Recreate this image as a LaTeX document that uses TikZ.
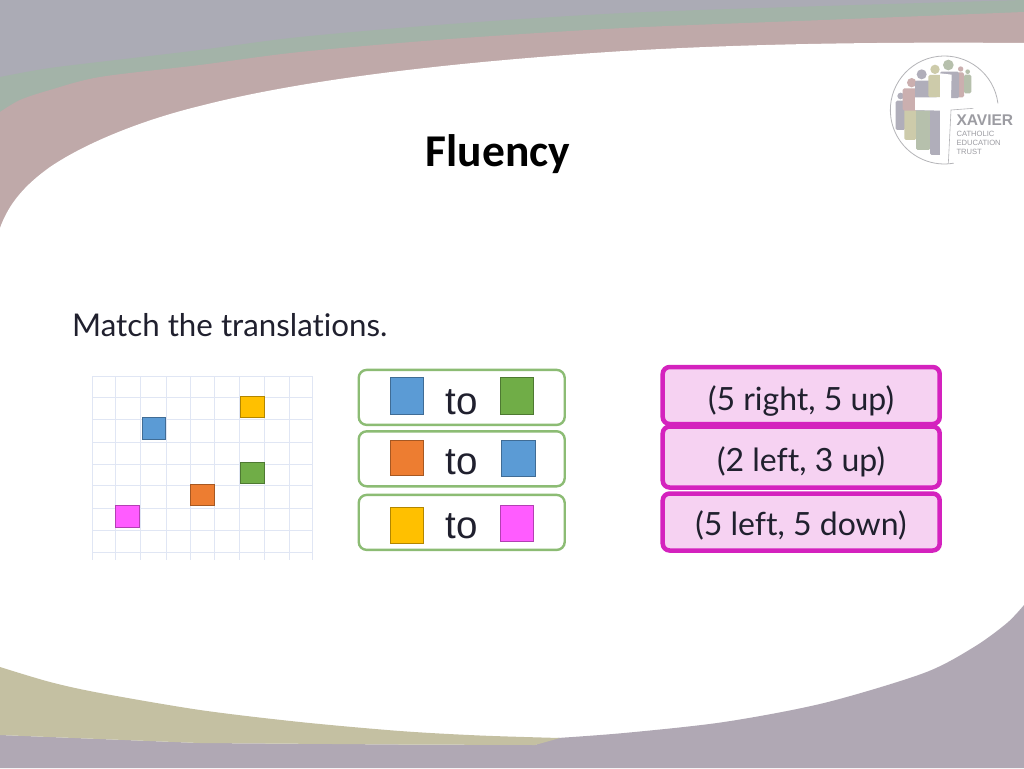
\documentclass[tikz,border=0pt]{standalone}
\usepackage{fontspec}
\setmainfont{Carlito}
\newfontfamily\nun{Lato}
\newfontfamily\arm{Liberation Sans}
\definecolor{topgrey}{HTML}{ABABB5}
\definecolor{topgreen}{HTML}{A3B3A8}
\definecolor{toprose}{HTML}{BFA9A9}
\definecolor{botolive}{HTML}{C4C0A2}
\definecolor{botmauve}{HTML}{B0A8B4}
\definecolor{gridc}{HTML}{E0E6F4}
\definecolor{cblue}{HTML}{5B9BD5}
\definecolor{cgreen}{HTML}{70AD47}
\definecolor{corange}{HTML}{ED7D31}
\definecolor{cyellow}{HTML}{FFC000}
\definecolor{cpink}{HTML}{FF5CFF}
\definecolor{boxgreen}{HTML}{8CBC74}
\definecolor{boxmag}{HTML}{D422BE}
\definecolor{boxfill}{HTML}{F6D2F2}
\definecolor{inkc}{HTML}{20202E}
\definecolor{pgrey}{HTML}{B0AEBA}
\definecolor{prose}{HTML}{CBAFAF}
\definecolor{polive}{HTML}{CDCBAA}
\definecolor{psage}{HTML}{B6C0AC}
\definecolor{logoline}{HTML}{B4B4B8}
\definecolor{logotext}{HTML}{9C9CA2}
\tikzset{
  x=1pt,y=-1pt,
  sq/.style={draw=#1!70!black,fill=#1,line width=0.9pt,inner sep=0pt,anchor=center},
  tobox/.style={draw=boxgreen,line width=2.4pt,rounded corners=8pt,fill=white,minimum width=206pt,minimum height=55pt,inner sep=0pt},
  magbox/.style={draw=boxmag,fill=boxfill,line width=4.5pt,rounded corners=7pt,minimum width=277pt,minimum height=#1,inner sep=0pt},
  magtext/.style={font=\nun\fontsize{32}{32}\selectfont,text=inkc,inner sep=0pt,anchor=base},
  totext/.style={font=\arm\fontsize{38.5}{38.5}\selectfont,text=inkc,inner sep=0pt,anchor=base},
  logotxt/.style={text=logotext,inner sep=0pt,anchor=base west},
  limb/.style={rounded corners=1.5pt}
}
\begin{document}
\begin{tikzpicture}
\useasboundingbox (0,0) rectangle (1024,768);
\fill[topgrey] (0,0) rectangle (1024,768);
% top bands
\fill[topgreen] plot[smooth] coordinates {(0,77) (50,68) (133,58) (200,50) (300,37) (450,24) (624,13) (824,6) (1024,0)} -- (1024,400) -- (0,400) -- cycle;
\fill[toprose] plot[smooth] coordinates {(0,112) (20,100) (50,90) (100,77) (200,65) (300,52) (450,39) (624,28) (824,20) (1024,12)} -- (1024,400) -- (0,400) -- cycle;
\fill[white] (0,228) .. controls (9,203) and (25,185) .. (50,167) .. controls (90,140) and (150,118) .. (200,106) .. controls (300,80) and (450,62) .. (624,51) .. controls (760,43) and (900,42) .. (1024,43) -- (1024,768) -- (0,768) -- cycle;
% bottom bands
\fill[botmauve] plot[smooth] coordinates {(550,738.5) (624,733) (724,722) (824,703) (924,673) (974,647) (1007,623) (1024,605)} -- (1024,768) -- (0,768) -- (0,735) -- (200,743) -- (400,744.5) -- (535,745) -- cycle;
\fill[botolive] plot[smooth] coordinates {(0,667) (50,682) (100,693) (200,710) (300,722) (400,731) (480,735.5) (560,738)} -- (535,745) -- (400,744.5) -- (200,743) -- (0,735) -- cycle;
% title
\node[font=\bfseries\fontsize{45.5}{45.5}\selectfont,inner sep=0pt] (title) at (498,154) {Fluency};
% logo
\begin{scope}[shift={(880,40)},x=0.3333pt,y=-0.3333pt]
  \fill[pgrey,limb] (47,182) rectangle (75,270);
  \fill[pgrey] (62,168) circle[radius=10];
  \fill[polive,limb] (73,205) rectangle (108,300);
  \fill[prose,limb] (68,145) rectangle (112,212);
  \fill[prose] (95,128) circle[radius=14];
  \fill[psage,limb] (108,200) rectangle (150,330);
  \fill[pgrey,limb] (105,122) rectangle (170,212);
  \fill[pgrey] (125,103) circle[radius=15];
  \fill[pgrey,limb] (150,205) rectangle (185,345);
  \fill[polive,limb] (145,105) rectangle (185,172);
  \fill[polive] (165,88) circle[radius=14];
  \fill[psage] (205,75) circle[radius=16];
  \fill[prose,limb] (232,97) rectangle (252,172);
  \fill[prose] (242,87) circle[radius=8];
  \fill[pgrey,limb] (180,95) rectangle (237,175);
  \fill[psage,limb] (252,104) rectangle (274,160);
  \fill[psage] (263,95) circle[radius=7];
  \fill[white] (180,100) -- (215,104) -- (213,175) -- (280,175) -- (280,205) -- (213,210) -- (205,370) -- (180,370) -- (180,212) -- (105,210) -- (105,172) -- (180,172) -- cycle;
  \draw[logoline,line width=0.8pt] (193,210) ++(-7:162) arc[start angle=-7,end angle=-280,radius=162];
  \draw[logoline,line width=0.6pt] (280,205) -- (213,210) -- (205,370);
  \node[logotxt,font=\arm\bfseries\fontsize{15.5}{15.5}\selectfont] (lgx) at (229,258) {XAVIER};
  \node[logotxt,font=\arm\fontsize{7.6}{7.6}\selectfont] (lgc) at (229,291) {CATHOLIC};
  \node[logotxt,font=\arm\fontsize{7.6}{7.6}\selectfont] (lge) at (229,317) {EDUCATION};
  \node[logotxt,font=\arm\fontsize{7.6}{7.6}\selectfont] (lgt) at (229,343) {TRUST};
\end{scope}
% heading
\node[font=\nun\fontsize{31.3}{31.3}\selectfont,text=inkc,inner sep=0pt,anchor=base west] (match) at (72,336) {Match the translat\kern0pt ions.};
% grid
\foreach \gx in {92.3,115.7,140.7,166,190.7,214,239,264,289,312}
  \draw[gridc,line width=0.9pt] (\gx,376) -- (\gx,560);
\foreach \gy in {376,397.7,419,442.3,464,485,508.3,530,552.3}
  \draw[gridc,line width=0.9pt] (92.3,\gy) -- (312,\gy);
\node[sq=cyellow,minimum width=23.5pt,minimum height=21.5pt] (gy) at (252.2,406.7) {};
\node[sq=cblue,minimum width=23.5pt,minimum height=21.5pt] (gb) at (154,428.2) {};
\node[sq=cgreen,minimum width=23.5pt,minimum height=21.5pt] (gg) at (252.2,473) {};
\node[sq=corange,minimum width=23.5pt,minimum height=21.5pt] (go) at (202.3,494.7) {};
\node[sq=cpink,minimum width=23.5pt,minimum height=21.5pt] (gp) at (127.3,516.3) {};
% to boxes
\node[tobox] (t1) at (461.7,397.4) {};
\node[tobox] (t2) at (461.7,458.8) {};
\node[tobox] (t3) at (461.7,522.4) {};
\node[sq=cblue,minimum width=33pt,minimum height=36.5pt] (t1a) at (406.6,396) {};
\node[sq=cgreen,minimum width=33pt,minimum height=36.5pt] (t1b) at (517.4,396) {};
\node[sq=corange,minimum width=33pt,minimum height=34.5pt] (t2a) at (406.6,457.7) {};
\node[sq=cblue,minimum width=34.5pt,minimum height=36pt] (t2b) at (518.2,458.8) {};
\node[sq=cyellow,minimum width=33pt,minimum height=36.5pt] (t3a) at (406.6,525.3) {};
\node[sq=cpink,minimum width=33pt,minimum height=36.5pt] (t3b) at (517.4,523.6) {};
\node[totext] (to1) at (462,414.3) {to};
\node[totext] (to2) at (462,474) {to};
\node[totext] (to3) at (462,538) {to};
% magenta boxes
\node[magbox=57pt] (m1) at (801.2,395.5) {};
\node[magbox=57pt] (m3) at (801.2,522) {};
\node[magbox=61pt] (m2) at (801.2,457) {};
\node[magtext] (mt1) at (801,410) {(5 right, 5 up)};
\node[magtext] (mt2) at (801,471.7) {(2 lef\kern0pt t, 3 up)};
\node[magtext] (mt3) at (801,535) {(5 lef\kern0pt t, 5 down)};
\end{tikzpicture}
\end{document}
